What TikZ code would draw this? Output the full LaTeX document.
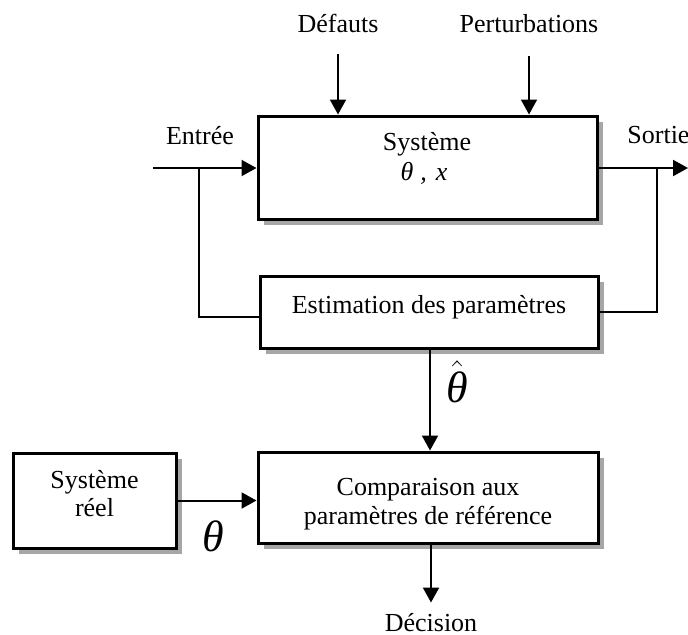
\documentclass[tikz,border=0pt]{standalone}
\usepackage{fontspec}
\setmainfont{Liberation Serif}
\usetikzlibrary{arrows.meta,shadows}
\begin{document}
\begin{tikzpicture}[x=0.5pt,y=-0.5pt,
  every node/.style={font=\fontsize{13}{15}\selectfont},
  boxstyle/.style={draw=black,line width=1.5pt,fill=white,inner sep=0pt,
    drop shadow={shadow xshift=3pt,shadow yshift=-3pt,fill=black!35,opacity=1}},
  txt/.style={anchor=base,inner sep=0pt},
  bigth/.style={anchor=base,inner sep=0pt,font=\fontsize{22}{25}\selectfont},
  arr/.style={line width=1pt,-{Triangle[length=7.5pt,width=8pt]}},
  ln/.style={line width=1pt}]
\useasboundingbox (0,0) rectangle (688,634);

% boxes
\node[boxstyle,minimum width=339*0.5pt,minimum height=103*0.5pt] (sys) at (427.5,167.5) {};
\node[boxstyle,minimum width=338*0.5pt,minimum height=72*0.5pt] (est) at (429,312) {};
\node[boxstyle,minimum width=340*0.5pt,minimum height=91*0.5pt] (comp) at (428,497.5) {};
\node[boxstyle,minimum width=163*0.5pt,minimum height=95*0.5pt] (reel) at (94.5,500.5) {};

% texts inside boxes
\node[txt] (sysA) at (427,150) {Système};
\node[txt] (sysB) at (424,180) {\textit{θ\hspace{3.5pt},\hspace{4.5pt}x}};
\node[txt] (estT) at (429,313) {Estimation des paramètres};
\node[txt] (compA) at (428,495) {Comparaison aux};
\node[txt] (compB) at (428,524) {paramètres de référence};
\node[txt] (reelA) at (94.5,488) {Système};
\node[txt] (reelB) at (94.5,516) {réel};

% outside labels
\node[txt] (def) at (338,32) {Défauts};
\node[txt] (pert) at (529,32) {Perturbations};
\node[txt] (ent) at (200,144) {Entrée};
\node[txt,anchor=base west] (sor) at (627,143) {Sortie};
\node[anchor=base,inner ysep=5pt,inner xsep=0pt] (dec) at (431,631) {Décision};
\node[bigth] (thhat) at (457,402) {$\hat{\hbox{\itshape θ}}$};
\node[bigth] (th) at (213,551) {\itshape θ};

% coordinates
\coordinate (in) at (153,168);
\coordinate (bl) at (199,168);
\coordinate (out) at (688,168);
\coordinate (br) at (657,168);
\coordinate (d0) at (338,54);
\coordinate (p0) at (529,56);

% connectors
\draw[arr] (in) -- (sys.west |- in);
\draw[arr] (sys.east |- out) -- (out);
\draw[arr] (d0) -- (d0 |- sys.north);
\draw[arr] (p0) -- (p0 |- sys.north);
\draw[ln] (bl) |- ([yshift=-2.5pt]est.west);
\draw[ln] (br) |- (est.east);
\draw[arr] ([xshift=0.5pt]est.south) -- ([xshift=0.5pt]est.south |- comp.north);
\draw[arr] (reel.east) -- (reel.east -| comp.west);
\draw[arr] (comp.south -| dec.north) -- (dec.north);
\end{tikzpicture}
\end{document}
